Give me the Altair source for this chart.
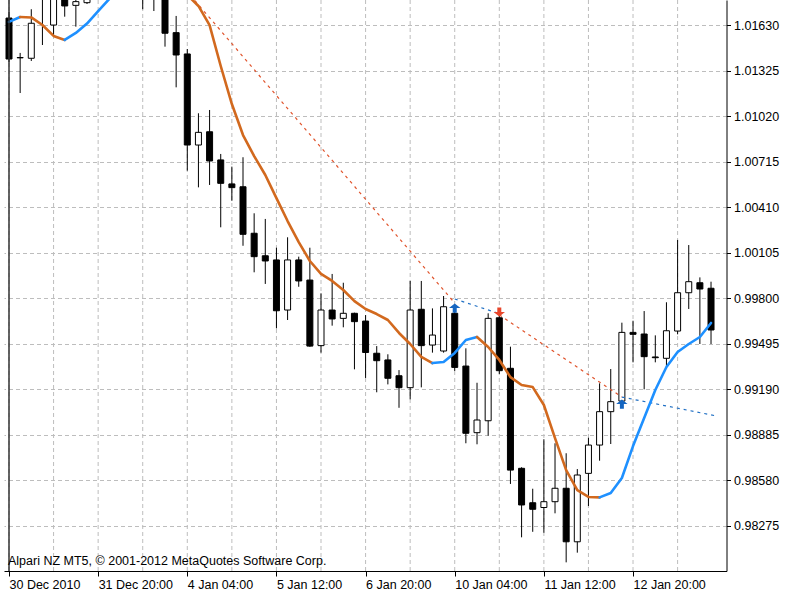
import altair as alt
import pandas as pd

FONT = "Liberation Sans"

# ---- data (H4 bars, index 0 = first visible bar) ----
x_labels = ["30 Dec 2010", "31 Dec 20:00", "4 Jan 04:00", "5 Jan 12:00",
            "6 Jan 20:00", "10 Jan 04:00", "11 Jan 12:00", "12 Jan 20:00"]
label_idx = [0, 8, 16, 24, 32, 40, 48, 56]
grid_idx = [0, 4, 8, 12, 16, 20, 24, 28, 32, 36, 40, 44, 48, 52, 56, 60]
y_ticks = [1.01630, 1.01325, 1.01020, 1.00715, 1.00410, 1.00105,
           0.99800, 0.99495, 0.99190, 0.98885, 0.98580, 0.98275]

opens = [1.01680, 1.01415, 1.01410, 1.01820, 1.01633, 1.01840, 1.01765, 1.01783,
         1.01860, 1.01900, 1.01930, 1.01970, 1.01950, 1.01890, 1.01850, 1.01582,
         1.01439, 1.00828, 1.00917, 1.00728, 1.00567, 1.00548, 1.00236, 1.00085,
         1.00057, 0.99721, 1.00057, 0.99922, 0.99482, 0.99721, 0.99665, 0.99699,
         0.99647, 0.99431, 0.99386, 0.99280, 0.99200, 0.99726, 0.99486, 0.99446,
         0.99699, 0.99345, 0.98898, 0.98978, 0.99669, 0.99330, 0.98659, 0.98428,
         0.98396, 0.98435, 0.98525, 0.98166, 0.98625, 0.98815, 0.99039, 0.99110,
         0.99571, 0.99560, 0.99406, 0.99397, 0.99580, 0.99837, 0.99904, 0.99867]
highs = [1.01721, 1.01446, 1.01739, 1.01920, 1.01890, 1.01870, 1.01860, 1.01880,
         1.01950, 1.02000, 1.02030, 1.02060, 1.02010, 1.01930, 1.01890, 1.01694,
         1.01472, 1.01041, 1.01063, 1.00768, 1.00683, 1.00746, 1.00370, 1.00332,
         1.00139, 1.00209, 1.00079, 1.00139, 0.99833, 0.99963, 0.99904, 0.99703,
         0.99687, 0.99479, 0.99424, 0.99318, 0.99916, 0.99916, 0.99732, 0.99815,
         0.99708, 0.99464, 0.99233, 0.99699, 0.99699, 0.99475, 0.98666, 0.98522,
         0.98854, 0.98827, 0.98760, 0.98654, 0.98864, 0.99229, 0.99325, 0.99636,
         0.99649, 0.99714, 0.99551, 0.99773, 1.00191, 1.00157, 0.99940, 0.99911]
lows = [1.01385, 1.01177, 1.01392, 1.01499, 1.01555, 1.01689, 1.01622, 1.01774,
        1.01830, 1.01840, 1.01870, 1.01900, 1.01739, 1.01727, 1.01488, 1.01215,
        1.00656, 1.00544, 1.00560, 1.00276, 1.00454, 1.00152, 0.99974, 0.99896,
        0.99598, 0.99654, 0.99877, 0.99474, 0.99435, 0.99616, 0.99605, 0.99323,
        0.99265, 0.99169, 0.99222, 0.99065, 0.99122, 0.99202, 0.99435, 0.99435,
        0.99312, 0.98827, 0.98820, 0.98878, 0.99292, 0.98554, 0.98196, 0.98233,
        0.98227, 0.98357, 0.98028, 0.98093, 0.98406, 0.98710, 0.98822, 0.99097,
        0.99370, 0.99189, 0.99370, 0.99330, 0.99558, 0.99728, 0.99493, 0.99493]
closes = [1.01405, 1.01413, 1.01645, 1.01880, 1.01850, 1.01761, 1.01790, 1.01830,
          1.01900, 1.01930, 1.01970, 1.01950, 1.01880, 1.01840, 1.01578, 1.01432,
          1.00828, 1.00913, 1.00721, 1.00571, 1.00542, 1.00229, 1.00079, 1.00050,
          0.99716, 1.00057, 0.99916, 0.99479, 0.99721, 0.99661, 0.99699, 0.99643,
          0.99436, 0.99381, 0.99263, 0.99200, 0.99721, 0.99482, 0.99553, 0.99743,
          0.99336, 0.98894, 0.98983, 0.99665, 0.99314, 0.98647, 0.98413, 0.98384,
          0.98435, 0.98525, 0.98166, 0.98614, 0.98815, 0.99039, 0.99106, 0.99571,
          0.99558, 0.99408, 0.99401, 0.99582, 0.99837, 0.99911, 0.99862, 0.99587]

# smoothed indicator line (one value per bar)
line_p = [1.01654, 1.01687, 1.01684, 1.01633, 1.01560, 1.01533, 1.01580, 1.01643,
          1.01727, 1.01808, 1.01895, 1.01962, 1.01998, 1.01990, 1.01962, 1.01902,
          1.01835, 1.01761, 1.01633, 1.01358, 1.01103, 1.00895, 1.00754, 1.00627,
          1.00472, 1.00318, 1.00177, 1.00050, 0.99963, 0.99916, 0.99855, 0.99781,
          0.99728, 0.99694, 0.99654, 0.99567, 0.99493, 0.99406, 0.99365, 0.99372,
          0.99433, 0.99520, 0.99540, 0.99473, 0.99386, 0.99271, 0.99218, 0.99204,
          0.99084, 0.98862, 0.98647, 0.98513, 0.98467, 0.98464, 0.98493, 0.98594,
          0.98808, 0.98996, 0.99184, 0.99339, 0.99439, 0.99493, 0.99540, 0.99634]

# dashed trend lines: start bar, start price, end bar, end price, kind
dash_i0 = [13, 40, 44, 55]
dash_p0 = [1.02117, 0.99795, 0.99688, 0.99137]
dash_i1 = [40, 44, 55, 63.5]
dash_p1 = [0.99768, 0.99697, 0.99137, 0.99010]
dash_kind = ["sell", "buy", "sell", "buy"]

# signal arrows
arrow_i = [40, 44, 55]
arrow_p = [0.99734, 0.99708, 0.99090]
arrow_dir = ["up", "down", "up"]

# ---- tables ----
n = len(opens)
candles = pd.DataFrame({"i": list(range(n)), "o": opens, "h": highs,
                        "l": lows, "c": closes})

rows = []
run, prev = 0, None
for k in range(len(line_p) - 1):
    trend = "up" if line_p[k + 1] > line_p[k] else "down"
    if trend != prev:
        run += 1
        prev = trend
        rows.append({"i": k, "p": line_p[k], "run": run, "trend": trend})
    rows.append({"i": k + 1, "p": line_p[k + 1], "run": run, "trend": trend})
line_df = pd.DataFrame(rows)

drows = []
for s in range(len(dash_i0)):
    drows.append({"i": dash_i0[s], "p": dash_p0[s], "seg": s, "kind": dash_kind[s]})
    drows.append({"i": dash_i1[s], "p": dash_p1[s], "seg": s, "kind": dash_kind[s]})
dash_df = pd.DataFrame(drows)

arrows = pd.DataFrame({"i": arrow_i, "p": arrow_p, "dir": arrow_dir})
grid_df = pd.DataFrame({"i": grid_idx})

# ---- scales / axes ----
xs = alt.Scale(domain=[0, 63.94], nice=False, zero=False)
ys = alt.Scale(domain=[0.97970, 1.01801], nice=False, zero=False)

label_arr = "[" + ",".join("'" + t + "'" for t in x_labels) + "]"
x_axis = alt.Axis(values=label_idx, labelExpr=label_arr + "[datum.value/8]",
                  labelAlign="left", labelBaseline="top", labelPadding=2,
                  tickSize=5, tickColor="black", domainColor="black",
                  labelColor="black", labelFont=FONT, labelFontSize=12.5,
                  grid=False, title=None, labelFlush=False, labelOverlap=False)
y_axis = alt.Axis(orient="right", values=y_ticks, format=".5f", grid=True,
                  gridDash=[4, 3], gridColor="#bdbdbd", tickSize=4,
                  tickColor="black", domainColor="black", labelColor="black",
                  labelFont=FONT, labelFontSize=12.5, labelPadding=3,
                  title=None, labelOverlap=False, labelFlush=False)

X = alt.X("i:Q", scale=xs, axis=x_axis)

vgrid = alt.Chart(grid_df).mark_rule(color="#bdbdbd", strokeDash=[4, 3],
                                     strokeWidth=1).encode(x=X)

wicks = alt.Chart(candles).mark_rule(color="black", strokeWidth=1, clip=True).encode(
    x=X, y=alt.Y("l:Q", scale=ys, axis=y_axis), y2="h:Q")

bodies = alt.Chart(candles).mark_bar(size=6, stroke="black", strokeWidth=1,
                                     clip=True).encode(
    x=X, y=alt.Y("o:Q", scale=ys, axis=y_axis), y2="c:Q",
    fill=alt.condition("datum.c > datum.o", alt.value("white"), alt.value("black")))

dashes = alt.Chart(dash_df).mark_line(strokeWidth=1.2, strokeDash=[3, 4],
                                      clip=True).encode(
    x=X, y=alt.Y("p:Q", scale=ys, axis=y_axis), detail="seg:N",
    color=alt.Color("kind:N", scale=alt.Scale(domain=["sell", "buy"],
                                               range=["#e0532b", "#1f6fc4"]),
                    legend=None))

ind = alt.Chart(line_df).mark_line(strokeWidth=2.6, strokeCap="round",
                                   strokeJoin="round", clip=True).encode(
    x=X, y=alt.Y("p:Q", scale=ys, axis=y_axis), detail="run:N", order="i:Q",
    color=alt.Color("trend:N", scale=alt.Scale(domain=["up", "down"],
                                                range=["#1e90ff", "#d2691e"]),
                    legend=None))

up_path = "M0,-0.8 L1,0 L0.35,0 L0.35,0.8 L-0.35,0.8 L-0.35,0 L-1,0 Z"
down_path = "M0,0.8 L1,0 L0.35,0 L0.35,-0.8 L-0.35,-0.8 L-0.35,0 L-1,0 Z"
arrow_layer = alt.Chart(arrows).mark_point(filled=True, size=130, opacity=1,
                                           clip=True).encode(
    x=X, y=alt.Y("p:Q", scale=ys, axis=y_axis),
    shape=alt.Shape("dir:N", scale=alt.Scale(domain=["up", "down"],
                                              range=[up_path, down_path]),
                    legend=None),
    color=alt.Color("dir:N", scale=alt.Scale(domain=["up", "down"],
                                              range=["#1565c0", "#e8452a"]),
                    legend=None))

left_border = alt.Chart(pd.DataFrame({"k": [0]})).mark_rule(
    color="#333333", strokeWidth=1.5).encode(x=alt.datum(0, scale=xs))

caption = alt.Chart(pd.DataFrame({"k": [0]})).mark_text(
    align="left", baseline="alphabetic", font=FONT, fontSize=12.5,
    color="black").encode(
    x=alt.value(4), y=alt.value(565),
    text=alt.value("Alpari NZ MT5, © 2001-2012 MetaQuotes Software Corp."))

chart = alt.layer(vgrid, wicks, bodies, dashes, ind, arrow_layer,
                  left_border, caption).resolve_scale(
    color="independent", shape="independent").properties(
    width=722.5, height=571,
    padding={"left": 4, "top": 0, "right": 73.5, "bottom": 29},
    autosize="none", background="white",
).configure_view(stroke=None)

chart.save("out.html", embed_options={"renderer": "svg", "actions": False})
